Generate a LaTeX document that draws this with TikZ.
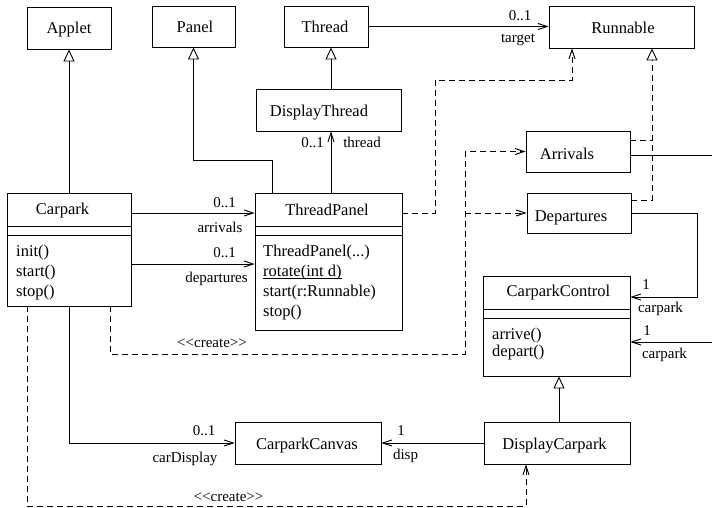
\documentclass[tikz,border=0pt]{standalone}
\usepackage{fontspec}
\setmainfont{Liberation Serif}
\usetikzlibrary{arrows.meta}
\newcommand\nmfont{\fontsize{16.5}{19}\selectfont}
\newcommand\lbfont{\fontsize{15}{17}\selectfont}
\begin{document}
\begin{tikzpicture}[x=1pt,y=-1pt,
  box/.style={draw, line width=0.9pt, inner sep=0pt},
  nm/.style={font=\nmfont, inner sep=0pt, anchor=base},
  op/.style={font=\nmfont, inner sep=0pt, anchor=base west},
  lb/.style={font=\lbfont, inner sep=0pt, anchor=base},
  conn/.style={line width=0.9pt},
  assoc/.style={conn, -{Straight Barb[length=9pt,width=6pt]}},
  inh/.style={conn, -{Triangle[open,length=12pt,width=11pt]}},
  dep/.style={conn, dash pattern=on 6pt off 4pt},
  deparr/.style={dep, -{Straight Barb[length=9pt,width=6pt]}},
  real/.style={dep, -{Triangle[open,length=12pt,width=11pt]}},
]
\useasboundingbox (0,0) rectangle (712,507);
\clip (0,0) rectangle (712,507);

% ---------- classes ----------
\node[box, minimum width=84pt, minimum height=42pt] (applet) at (69,28) {};
\node[nm] (appletT) at (69,33.5) {Applet};
\node[box, minimum width=83pt, minimum height=41pt] (panel) at (193.5,26.5) {};
\node[nm] (panelT) at (195,32.5) {Panel};
\node[box, minimum width=84pt, minimum height=41pt] (thread) at (326,26.5) {};
\node[nm] (threadT) at (325,32.5) {Thread};
\node[box, minimum width=145pt, minimum height=42pt] (runnable) at (621.5,27) {};
\node[nm] (runnableT) at (623,33) {Runnable};
\node[box, minimum width=145pt, minimum height=42pt] (displaythread) at (328.5,110) {};
\node[nm] (displaythreadT) at (319,116.5) {DisplayThread};
\node[box, minimum width=104pt, minimum height=41pt] (arrivals) at (578,151.5) {};
\node[nm] (arrivalsT) at (567,159) {Arrivals};
\node[box, minimum width=104pt, minimum height=40pt] (departures) at (579,213) {};
\node[nm] (departuresT) at (571,221) {Departures};
\node[box, minimum width=146pt, minimum height=42pt] (carparkcanvas) at (308,443) {};
\node[nm] (carparkcanvasT) at (307,449) {CarparkCanvas};
\node[box, minimum width=146pt, minimum height=42pt] (displaycarpark) at (557,443) {};
\node[nm] (displaycarparkT) at (554.5,449) {DisplayCarpark};

% Carpark
\node[box, minimum width=124pt, minimum height=113pt] (carpark) at (69,249.5) {};
\node[nm] (carparkT) at (62.5,214) {Carpark};
\coordinate (sA) at (0,226.5);
\coordinate (sB) at (0,235);
\draw[conn] (carpark.west |- sA) -- (carpark.east |- sA);
\draw[conn] (carpark.west |- sB) -- (carpark.east |- sB);
\node[op] (cpo1) at (16,256) {init()};
\node[op] (cpo2) at (16,276) {start()};
\node[op] (cpo3) at (16,296) {stop()};

% ThreadPanel
\node[box, minimum width=147pt, minimum height=137pt] (threadpanel) at (328.5,261.5) {};
\node[nm] (threadpanelT) at (327,215) {ThreadPanel};
\draw[conn] (threadpanel.west |- sA) -- (threadpanel.east |- sA);
\draw[conn] (threadpanel.west |- sB) -- (threadpanel.east |- sB);
\node[op] (tpo1) at (263,256) {ThreadPanel(...)};
\node[op] (tpo2) at (263,276) {rotate(int d)};
\draw[line width=0.7pt] ([yshift=-2pt]tpo2.base west) -- ([yshift=-2pt]tpo2.base east);
\node[op] (tpo3) at (263,296) {start(r:Runnable)};
\node[op] (tpo4) at (263,316) {stop()};

% CarparkControl
\node[box, minimum width=147pt, minimum height=100pt] (carparkcontrol) at (556.5,326) {};
\node[nm] (carparkcontrolT) at (558.5,296) {CarparkControl};
\coordinate (sC) at (0,309);
\coordinate (sD) at (0,318);
\draw[conn] (carparkcontrol.west |- sC) -- (carparkcontrol.east |- sC);
\draw[conn] (carparkcontrol.west |- sD) -- (carparkcontrol.east |- sD);
\node[op] (cco1) at (492,339) {arrive()};
\node[op] (cco2) at (492,356) {depart()};

% ---------- helper coordinates ----------
\coordinate (x27) at (27,0);
\coordinate (x110) at (110,0);
\coordinate (x272) at (272,0);
\coordinate (x331) at (331,0);
\coordinate (x559) at (559,0);
\coordinate (x572) at (572,0);
\coordinate (x652) at (652,0);
\coordinate (y140) at (0,140);
\coordinate (y155) at (0,155);
\coordinate (y200) at (0,200);
\coordinate (y213) at (0,213);
\coordinate (y264) at (0,264);
\coordinate (y342) at (0,342);
\coordinate (pbend) at (193.5,160);
\coordinate (tbend) at (435,80);
\coordinate (cbend) at (465,354);
\coordinate (dbend) at (526,506);
\coordinate (rbend) at (697,297);
\coordinate (offpage) at (722,155);

% ---------- generalisations ----------
\draw[inh] (carpark.north) -- (applet.south);
\draw[inh] (threadpanel.north -| x272) |- (pbend) -- (panel.south);
\draw[inh] (displaythread.north -| x331) -- (thread.south -| x331);
\draw[inh] (displaycarpark.north -| x559) -- (carparkcontrol.south -| x559);
\draw[real] (departures.east |- y200) -| (runnable.south -| x652);
\draw[dep] (arrivals.east |- y140) -- (x652 |- y140);

% ---------- associations ----------
\draw[assoc] (thread.east) -- (thread.east -| runnable.west);
\node[lb] (tgtM) at (520,20) {0..1};
\node[lb] (tgtR) at (518,42) {target};

\draw[assoc] (threadpanel.north -| x331) -- (displaythread.south -| x331);
\node[lb] (thrM) at (312.5,147) {0..1};
\node[lb] (thrR) at (362,147) {thread};

\draw[assoc] (carpark.east |- y213) -- (threadpanel.west |- y213);
\node[lb] (arrM) at (224.5,207) {0..1};
\node[lb] (arrR) at (220,232) {arrivals};

\draw[assoc] (carpark.east |- y264) -- (threadpanel.west |- y264);
\node[lb] (depM) at (224.5,257) {0..1};
\node[lb] (depR) at (216.5,282) {departures};

\draw[assoc] (departures.east) -| (rbend) -- (carparkcontrol.east |- rbend);
\node[lb] (cc1M) at (646,289) {1};
\node[lb] (cc1R) at (660.5,312) {carpark};

\draw[assoc] (arrivals.east |- y155) -- (offpage) |- (carparkcontrol.east |- y342);
\node[lb] (cc2M) at (647,335) {1};
\node[lb] (cc2R) at (664.5,358) {carpark};

\draw[assoc] (carpark.south) |- (carparkcanvas.west);
\node[lb] (cdM) at (204,435) {0..1};
\node[lb] (cdR) at (185,462) {carDisplay};

\draw[assoc] (displaycarpark.west) -- (carparkcanvas.east);
\node[lb] (dispM) at (401,435) {1};
\node[lb] (dispR) at (405.5,459) {disp};

% ---------- dependencies ----------
\draw[deparr] (threadpanel.east |- y213) -| (tbend) -| (runnable.south -| x572);
\draw[deparr] (carpark.south -| x110) |- (cbend) |- (arrivals.west);
\draw[deparr] (cbend |- departures.west) -- (departures.west);
\node[lb] (cr1) at (212,347) {{<}{<}create{>}{>}};

\draw[deparr] (carpark.south -| x27) |- (dbend) -- (displaycarpark.south -| dbend);
\node[lb] (cr2) at (228.5,501) {{<}{<}create{>}{>}};
\end{tikzpicture}
\end{document}
